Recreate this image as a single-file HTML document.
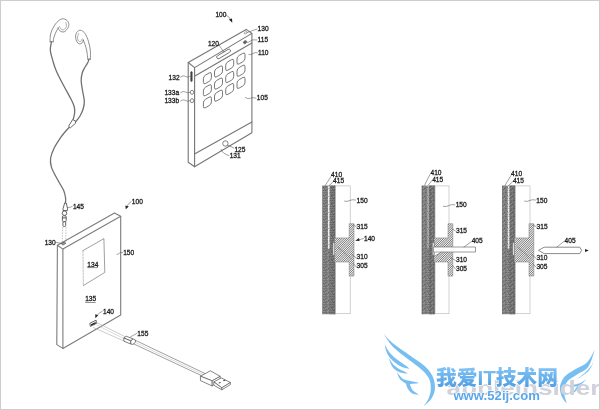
<!DOCTYPE html>
<html lang="zh">
<head>
<meta charset="utf-8">
<title>Patent figures</title>
<style>
html,body{margin:0;padding:0;background:#fff;}
body{width:600px;height:410px;overflow:hidden;position:relative;}
#frame{position:absolute;left:0;top:0;width:598px;height:408px;border:1px solid #cdcdcd;background:#fff;}
svg{position:absolute;left:0;top:0;display:block;}
</style>
</head>
<body>
<div id="frame"></div>
<svg width="600" height="410" viewBox="0 0 600 410">
<defs>
<pattern id="noise" width="8" height="8" patternUnits="userSpaceOnUse"><rect x="1" y="0" width="1" height="1" fill="#000" fill-opacity="0.15"/><rect x="2" y="0" width="1" height="1" fill="#000" fill-opacity="0.14"/><rect x="4" y="0" width="1" height="1" fill="#000" fill-opacity="0.13"/><rect x="5" y="0" width="1" height="1" fill="#000" fill-opacity="0.12"/><rect x="6" y="0" width="1" height="1" fill="#000" fill-opacity="0.07"/><rect x="0" y="1" width="1" height="1" fill="#fff" fill-opacity="0.07"/><rect x="1" y="1" width="1" height="1" fill="#000" fill-opacity="0.15"/><rect x="2" y="1" width="1" height="1" fill="#fff" fill-opacity="0.13"/><rect x="4" y="1" width="1" height="1" fill="#fff" fill-opacity="0.07"/><rect x="5" y="1" width="1" height="1" fill="#fff" fill-opacity="0.09"/><rect x="6" y="1" width="1" height="1" fill="#000" fill-opacity="0.08"/><rect x="0" y="2" width="1" height="1" fill="#fff" fill-opacity="0.08"/><rect x="5" y="2" width="1" height="1" fill="#000" fill-opacity="0.07"/><rect x="6" y="2" width="1" height="1" fill="#000" fill-opacity="0.16"/><rect x="3" y="3" width="1" height="1" fill="#000" fill-opacity="0.17"/><rect x="5" y="3" width="1" height="1" fill="#000" fill-opacity="0.14"/><rect x="7" y="3" width="1" height="1" fill="#fff" fill-opacity="0.15"/><rect x="0" y="4" width="1" height="1" fill="#000" fill-opacity="0.20"/><rect x="1" y="4" width="1" height="1" fill="#000" fill-opacity="0.12"/><rect x="2" y="4" width="1" height="1" fill="#fff" fill-opacity="0.08"/><rect x="4" y="4" width="1" height="1" fill="#000" fill-opacity="0.15"/><rect x="5" y="4" width="1" height="1" fill="#fff" fill-opacity="0.13"/><rect x="6" y="4" width="1" height="1" fill="#fff" fill-opacity="0.10"/><rect x="3" y="5" width="1" height="1" fill="#fff" fill-opacity="0.17"/><rect x="6" y="5" width="1" height="1" fill="#000" fill-opacity="0.16"/><rect x="0" y="6" width="1" height="1" fill="#fff" fill-opacity="0.16"/><rect x="1" y="6" width="1" height="1" fill="#000" fill-opacity="0.11"/><rect x="3" y="6" width="1" height="1" fill="#000" fill-opacity="0.12"/><rect x="4" y="6" width="1" height="1" fill="#000" fill-opacity="0.08"/><rect x="5" y="6" width="1" height="1" fill="#000" fill-opacity="0.17"/><rect x="6" y="6" width="1" height="1" fill="#000" fill-opacity="0.09"/><rect x="0" y="7" width="1" height="1" fill="#fff" fill-opacity="0.07"/><rect x="3" y="7" width="1" height="1" fill="#fff" fill-opacity="0.16"/><rect x="4" y="7" width="1" height="1" fill="#fff" fill-opacity="0.09"/><rect x="7" y="7" width="1" height="1" fill="#fff" fill-opacity="0.17"/></pattern>
<filter id="soft" x="0" y="0" width="600" height="410" filterUnits="userSpaceOnUse"><feGaussianBlur stdDeviation="0.38"/></filter>
<linearGradient id="bluegrad" x1="0" y1="0" x2="0" y2="1">
<stop offset="0" stop-color="#86c6f4"/>
<stop offset="1" stop-color="#4a9be3"/>
</linearGradient>
</defs>
<g id="drawing" filter="url(#soft)">
<g fill="none" stroke="#6a6a6a" stroke-width="0.75" stroke-linecap="round">
<path d="M50.1 41.8C50.1 40.8 50.0 38.0 50.3 36.0C50.6 34.0 51.0 32.1 52.1 29.8C53.2 27.5 55.1 24.2 56.8 22.4C58.5 20.6 60.5 19.1 62.2 18.8C63.9 18.5 65.8 19.5 66.9 20.4C68.0 21.3 68.8 23.1 68.9 24.4C69.0 25.7 68.4 27.2 67.6 28.4C66.8 29.6 65.4 31.4 64.2 31.8C63.0 32.2 61.2 31.8 60.2 31.1C59.2 30.4 58.5 28.4 58.2 27.8"/>
<path d="M58.2 27.8C57.8 28.5 56.7 30.5 56.0 32.0C55.3 33.5 54.5 35.4 54.0 37.0C53.5 38.6 53.3 41.0 53.2 41.8"/>
<path d="M59.5 26.5C59.8 27.0 60.7 29.0 61.5 29.5C62.3 30.0 63.7 29.9 64.5 29.3C65.3 28.7 66.3 27.1 66.5 26.0C66.7 24.9 65.9 23.1 65.8 22.5" stroke="#999"/>
<path d="M50.1 41.8L53.2 41.8"/>
<path d="M90.3 59.2C90.3 57.8 90.7 53.9 90.4 51.0C90.1 48.1 89.4 44.5 88.6 41.8C87.8 39.0 86.6 36.3 85.6 34.5C84.6 32.7 83.6 31.7 82.5 31.0C81.4 30.3 80.2 30.1 79.2 30.4C78.2 30.7 77.0 31.9 76.4 33.0C75.8 34.1 75.5 35.7 75.6 37.1C75.7 38.5 76.2 40.4 76.8 41.5C77.4 42.6 78.3 43.6 79.2 43.9C80.1 44.1 81.3 43.6 82.0 43.0C82.7 42.4 83.0 40.5 83.2 40.0"/>
<path d="M83.2 40.0C83.5 40.8 84.4 42.7 85.0 44.5C85.6 46.3 86.3 48.5 86.8 51.0C87.3 53.5 87.6 57.8 87.8 59.2"/>
<path d="M82.3 38.8C82.0 39.2 81.2 41.2 80.5 41.5C79.8 41.8 78.7 41.2 78.2 40.5C77.7 39.8 77.4 38.2 77.5 37.0C77.6 35.8 78.6 34.1 78.8 33.5" stroke="#999"/>
<path d="M87.8 59.2L90.3 59.2"/>
</g>
<g fill="none" stroke="#707070" stroke-width="1.3" stroke-linecap="round">
<path d="M51.5 41.8C51.3 43.2 50.1 46.9 50.3 50.0C50.5 53.1 51.8 57.1 52.8 60.6C53.8 64.0 54.4 66.5 56.2 70.7C58.0 74.9 61.0 80.6 63.6 85.5C66.2 90.4 69.8 96.7 71.6 100.3C73.4 103.9 73.8 104.9 74.3 107.0C74.8 109.1 74.8 110.8 74.6 113.0C74.4 115.2 73.3 119.2 73.0 120.4"/>
<path d="M89.0 59.2C88.8 59.8 88.3 61.6 87.6 63.0C86.9 64.4 85.7 65.8 84.8 67.5C83.9 69.2 82.8 70.8 82.2 73.0C81.6 75.2 81.1 77.8 81.2 81.0C81.3 84.2 82.3 88.7 82.8 92.0C83.3 95.3 84.2 98.3 84.3 101.0C84.4 103.7 84.1 105.5 83.4 108.0C82.7 110.5 81.4 113.6 80.0 116.0C78.6 118.4 76.0 121.2 75.2 122.2"/>
<path d="M69.5 127.0C68.8 127.8 66.4 130.3 65.0 132.0C63.6 133.7 62.7 134.5 60.9 137.2C59.1 139.9 55.9 144.5 54.2 148.0C52.5 151.5 51.1 154.8 50.6 158.0C50.1 161.2 50.4 163.8 51.5 167.4C52.6 171.0 55.5 175.7 57.5 179.5C59.5 183.3 62.2 187.2 63.6 190.3C65.0 193.4 65.3 196.2 65.6 198.3C65.9 200.4 65.4 202.2 65.4 203.0"/>
</g>
<path d="M72.6 119.6Q76.6 120.4 75.6 123.2L70.4 127.8L68.6 126.2Z" fill="#fff" stroke="#5a5a5a" stroke-width="0.9" stroke-linejoin="round"/>
<g fill="#fff" stroke="#484848" stroke-width="0.85" stroke-linejoin="round">
<path d="M64.7 203L66.3 203L67.5 208.4L67.3 210.6L63 210.6L63.1 208.4Z"/>
<ellipse cx="64.5" cy="213.2" rx="2.3" ry="2.2"/>
<rect x="62.4" y="215.8" width="3.8" height="5.8" rx="1"/>
<rect x="62.9" y="221.8" width="2.8" height="4.6" rx="0.9"/>
</g>
<path d="M62.4 217.9H66.2" stroke="#444" stroke-width="0.9"/>
<g stroke="#999" stroke-width="0.6" stroke-dasharray="1.5 1.2" fill="none"><path d="M62.6 227L62.2 243"/><path d="M66 227L65.8 242"/></g>
<g fill="none" stroke="#767676" stroke-width="1.1" stroke-linejoin="round" stroke-linecap="round">
<path d="M188.2 62.5L246.2 29.4L251.9 33.4L194.6 67.6Z"/>
<path d="M188.2 62.5L188.2 162.3L194.6 166.7L194.6 67.6"/>
<path d="M251.9 33.4L251.9 132.8L194.5 166.7"/>
<path d="M194.5 76.2L251.9 43"/>
<path d="M194.5 153.9L251.9 122"/>
</g>
<rect x="-7.8" y="-1.6" width="15.6" height="3.2" rx="1.6" transform="translate(223.6 54.0) rotate(-31)" fill="#fff" stroke="#585858" stroke-width="0.75"/>
<ellipse cx="245" cy="42.2" rx="1.8" ry="1.4" transform="rotate(-30 245 42.2)" fill="#666" stroke="#555" stroke-width="0.5"/>
<ellipse cx="245.7" cy="32.8" rx="1.6" ry="1" transform="rotate(-30 245.7 32.8)" fill="none" stroke="#777" stroke-width="0.6"/>
<g fill="#fff" stroke="#606060" stroke-width="0.75">
<rect x="-4" y="-4.2" width="8" height="8.4" rx="2.3" transform="matrix(1 -0.58 0 1 207.4 78.2)"/>
<rect x="-4" y="-4.2" width="8" height="8.4" rx="2.3" transform="matrix(1 -0.58 0 1 218.5 71.5)"/>
<rect x="-4" y="-4.2" width="8" height="8.4" rx="2.3" transform="matrix(1 -0.58 0 1 229.7 64.9)"/>
<rect x="-4" y="-4.2" width="8" height="8.4" rx="2.3" transform="matrix(1 -0.58 0 1 241.0 58.6)"/>
<rect x="-4" y="-4.2" width="8" height="8.4" rx="2.3" transform="matrix(1 -0.58 0 1 207.4 90.3)"/>
<rect x="-4" y="-4.2" width="8" height="8.4" rx="2.3" transform="matrix(1 -0.58 0 1 218.5 83.6)"/>
<rect x="-4" y="-4.2" width="8" height="8.4" rx="2.3" transform="matrix(1 -0.58 0 1 229.7 77.0)"/>
<rect x="-4" y="-4.2" width="8" height="8.4" rx="2.3" transform="matrix(1 -0.58 0 1 241.0 70.7)"/>
<rect x="-4" y="-4.2" width="8" height="8.4" rx="2.3" transform="matrix(1 -0.58 0 1 207.4 102.4)"/>
<rect x="-4" y="-4.2" width="8" height="8.4" rx="2.3" transform="matrix(1 -0.58 0 1 218.5 95.7)"/>
<rect x="-4" y="-4.2" width="8" height="8.4" rx="2.3" transform="matrix(1 -0.58 0 1 229.7 89.1)"/>
<rect x="-4" y="-4.2" width="8" height="8.4" rx="2.3" transform="matrix(1 -0.58 0 1 241.0 82.8)"/>
</g>
<rect x="190.6" y="71.5" width="1.7" height="10" rx="0.85" fill="#444" stroke="#444" stroke-width="0.4"/>
<ellipse cx="192" cy="92.3" rx="1.6" ry="2.1" fill="#fff" stroke="#585858" stroke-width="0.7"/>
<ellipse cx="192" cy="100.7" rx="1.6" ry="2.1" fill="#fff" stroke="#585858" stroke-width="0.7"/>
<ellipse cx="225.4" cy="143.5" rx="2.7" ry="2.7" fill="#fff" stroke="#585858" stroke-width="0.75"/>
<g fill="none" stroke="#7c7c7c" stroke-width="1.1" stroke-linejoin="round" stroke-linecap="round">
<path d="M57.4 245.3L114.5 212.9L120.7 216.3L62.9 249.1Z"/>
<path d="M57.4 245.3L56.8 344.6L62.9 348.4L62.9 249.1"/>
<path d="M120.7 216.3L120.7 315L62.9 348.4"/>
<path d="M83 250.6L103.9 238.6L104.8 272.4L83.3 285.6" stroke="#777" stroke-width="0.7"/>
<path d="M83 250.6L83.3 285.6" stroke="#aaa" stroke-width="0.7" stroke-dasharray="2 1.2"/>
</g>
<path d="M61.3 243.8L64.3 242.1L65.9 243.3L62.9 245.1Z" fill="#999" stroke="#555" stroke-width="0.7"/>
<path d="M89.9 323.2L96.1 320.2L96.5 323.4L90.3 326.4Z" fill="#fff" stroke="#4a4a4a" stroke-width="0.85"/>
<path d="M90.9 324.3L95.6 322L95.8 323.4L91.1 325.8Z" fill="#2a2a2a"/>
<g stroke="#aaa" stroke-width="0.6" fill="none">
<path d="M96.4 322.4L125.3 336.8"/>
<path d="M93 327.4L124.4 341.2"/>
<path d="M96.4 324.8L124.3 338.8" stroke="#c4c4c4"/>
</g>
<g fill="#fff" stroke="#555" stroke-width="0.75" stroke-linejoin="round">
<path d="M123.8 338L126.2 336.2L133 338.9L130.8 340.9Z"/>
<path d="M123.8 338L130.8 340.9L130.8 344L123.9 341.2Z"/>
<path d="M130.8 340.9L133 338.9L135.4 340L135.4 342.4L133 344.4L130.8 344Z"/>
</g>
<g stroke="#777" stroke-width="0.7" fill="none">
<path d="M135.4 340.3L205.2 373.6"/>
<path d="M133.3 343.7L201.6 375.7"/>
<path d="M134.4 342L203.4 374.7" stroke="#bbb" stroke-width="0.5"/>
</g>
<g fill="#fff" stroke="#5c5c5c" stroke-width="0.75" stroke-linejoin="round">
<path d="M200.4 376.2L210.4 370.8L220.2 376.3L212.2 380.8Z"/>
<path d="M200.4 376.2L212.2 380.8L212.2 386L200.5 380.6Z"/>
<path d="M212.2 380.8L220.2 376.3L220.2 379L212.2 386Z"/>
<path d="M213.8 381.9L221.3 377.9L230.4 382.5L221.8 387.8Z"/>
<path d="M213.8 381.9L221.8 387.8L221.8 389.8L213.8 385.2Z"/>
<path d="M221.8 387.8L230.4 382.5L230.4 384.6L221.8 389.8Z"/>
</g>
<path d="M218.2 382.9L220 381.9L221.2 382.6L219.4 383.6Z" fill="#555"/>
<path d="M222.8 380.6L224.6 379.6L225.8 380.3L224 381.3Z" fill="#555"/>
<rect x="322.4" y="185.6" width="13.0" height="128.6" fill="#7f7f7f"/>
<rect x="329.6" y="185.6" width="5.8" height="128.6" fill="#757575"/>
<path d="M322.8 185.6V314.2M331.9 185.6V314.2M335.0 185.6V314.2" stroke="#666" stroke-width="0.6" fill="none"/>
<rect x="328.0" y="185.6" width="1.6" height="63.2" fill="#eee"/>
<rect x="322.4" y="185.6" width="13.0" height="128.6" fill="url(#noise)"/>
<rect x="335.7" y="185.9" width="14.5" height="127.8" fill="#fff" stroke="#b4b4b4" stroke-width="0.6"/>
<clipPath id="hc1"><rect x="349.2" y="223.7" width="4.8" height="52.4"/><rect x="334.6" y="237.9" width="19.4" height="24.1"/></clipPath>
<rect x="349.2" y="223.7" width="4.8" height="52.4" fill="#f2f2f2"/>
<rect x="334.6" y="237.9" width="19.4" height="24.1" fill="#f2f2f2"/>
<path d="M274.60 276.5L334.60 216.50M276.85 276.5L336.85 216.50M279.10 276.5L339.10 216.50M281.35 276.5L341.35 216.50M283.60 276.5L343.60 216.50M285.85 276.5L345.85 216.50M288.10 276.5L348.10 216.50M290.35 276.5L350.35 216.50M292.60 276.5L352.60 216.50M294.85 276.5L354.85 216.50M297.10 276.5L357.10 216.50M299.35 276.5L359.35 216.50M301.60 276.5L361.60 216.50M303.85 276.5L363.85 216.50M306.10 276.5L366.10 216.50M308.35 276.5L368.35 216.50M310.60 276.5L370.60 216.50M312.85 276.5L372.85 216.50M315.10 276.5L375.10 216.50M317.35 276.5L377.35 216.50M319.60 276.5L379.60 216.50M321.85 276.5L381.85 216.50M324.10 276.5L384.10 216.50M326.35 276.5L386.35 216.50M328.60 276.5L388.60 216.50M330.85 276.5L390.85 216.50M333.10 276.5L393.10 216.50M335.35 276.5L395.35 216.50M337.60 276.5L397.60 216.50M339.85 276.5L399.85 216.50M342.10 276.5L402.10 216.50M344.35 276.5L404.35 216.50M346.60 276.5L406.60 216.50M348.85 276.5L408.85 216.50M351.10 276.5L411.10 216.50M353.35 276.5L413.35 216.50" stroke="#6e6e6e" stroke-width="0.95" fill="none" clip-path="url(#hc1)"/>
<path d="M349.2 223.7H354.0V276.1H349.2V262H334.6V237.9H349.2Z" fill="none" stroke="#7a7a7a" stroke-width="0.5"/>
<rect x="332.8" y="242.5" width="2" height="12.6" fill="#ddd" stroke="#666" stroke-width="0.5"/>
<rect x="421.8" y="185.6" width="13.0" height="128.6" fill="#7f7f7f"/>
<rect x="429.0" y="185.6" width="5.8" height="128.6" fill="#757575"/>
<path d="M422.2 185.6V314.2M431.3 185.6V314.2M434.4 185.6V314.2" stroke="#666" stroke-width="0.6" fill="none"/>
<path d="M428.1 185.6V248.4" stroke="#d8d8d8" stroke-width="1.1" stroke-dasharray="1.3 0.7" fill="none"/>
<rect x="421.8" y="185.6" width="13.0" height="128.6" fill="url(#noise)"/>
<rect x="435.1" y="185.9" width="13.9" height="127.8" fill="#fff" stroke="#b4b4b4" stroke-width="0.6"/>
<clipPath id="hc2"><rect x="448.0" y="223.7" width="4.8" height="52.4"/><rect x="434.0" y="237.9" width="18.8" height="24.1"/></clipPath>
<rect x="448.0" y="223.7" width="4.8" height="52.4" fill="#f2f2f2"/>
<rect x="434.0" y="237.9" width="18.8" height="24.1" fill="#f2f2f2"/>
<path d="M374.00 276.5L434.00 216.50M376.25 276.5L436.25 216.50M378.50 276.5L438.50 216.50M380.75 276.5L440.75 216.50M383.00 276.5L443.00 216.50M385.25 276.5L445.25 216.50M387.50 276.5L447.50 216.50M389.75 276.5L449.75 216.50M392.00 276.5L452.00 216.50M394.25 276.5L454.25 216.50M396.50 276.5L456.50 216.50M398.75 276.5L458.75 216.50M401.00 276.5L461.00 216.50M403.25 276.5L463.25 216.50M405.50 276.5L465.50 216.50M407.75 276.5L467.75 216.50M410.00 276.5L470.00 216.50M412.25 276.5L472.25 216.50M414.50 276.5L474.50 216.50M416.75 276.5L476.75 216.50M419.00 276.5L479.00 216.50M421.25 276.5L481.25 216.50M423.50 276.5L483.50 216.50M425.75 276.5L485.75 216.50M428.00 276.5L488.00 216.50M430.25 276.5L490.25 216.50M432.50 276.5L492.50 216.50M434.75 276.5L494.75 216.50M437.00 276.5L497.00 216.50M439.25 276.5L499.25 216.50M441.50 276.5L501.50 216.50M443.75 276.5L503.75 216.50M446.00 276.5L506.00 216.50M448.25 276.5L508.25 216.50M450.50 276.5L510.50 216.50M452.75 276.5L512.75 216.50" stroke="#6e6e6e" stroke-width="0.95" fill="none" clip-path="url(#hc2)"/>
<path d="M448.0 223.7H452.8V276.1H448.0V262H434.0V237.9H448.0Z" fill="none" stroke="#7a7a7a" stroke-width="0.5"/>
<rect x="432.2" y="242.5" width="2" height="12.6" fill="#ddd" stroke="#666" stroke-width="0.5"/>
<rect x="502.2" y="185.6" width="13.0" height="128.6" fill="#7f7f7f"/>
<rect x="509.4" y="185.6" width="5.8" height="128.6" fill="#757575"/>
<path d="M502.6 185.6V314.2M511.7 185.6V314.2M514.8 185.6V314.2" stroke="#666" stroke-width="0.6" fill="none"/>
<rect x="507.8" y="185.6" width="1.6" height="63.2" fill="#eee"/>
<rect x="502.2" y="185.6" width="13.0" height="128.6" fill="url(#noise)"/>
<rect x="515.5" y="185.9" width="14.5" height="127.8" fill="#fff" stroke="#b4b4b4" stroke-width="0.6"/>
<clipPath id="hc3"><rect x="529.0" y="223.7" width="4.8" height="52.4"/><rect x="514.4" y="237.9" width="19.4" height="24.1"/></clipPath>
<rect x="529.0" y="223.7" width="4.8" height="52.4" fill="#f2f2f2"/>
<rect x="514.4" y="237.9" width="19.4" height="24.1" fill="#f2f2f2"/>
<path d="M454.40 276.5L514.40 216.50M456.65 276.5L516.65 216.50M458.90 276.5L518.90 216.50M461.15 276.5L521.15 216.50M463.40 276.5L523.40 216.50M465.65 276.5L525.65 216.50M467.90 276.5L527.90 216.50M470.15 276.5L530.15 216.50M472.40 276.5L532.40 216.50M474.65 276.5L534.65 216.50M476.90 276.5L536.90 216.50M479.15 276.5L539.15 216.50M481.40 276.5L541.40 216.50M483.65 276.5L543.65 216.50M485.90 276.5L545.90 216.50M488.15 276.5L548.15 216.50M490.40 276.5L550.40 216.50M492.65 276.5L552.65 216.50M494.90 276.5L554.90 216.50M497.15 276.5L557.15 216.50M499.40 276.5L559.40 216.50M501.65 276.5L561.65 216.50M503.90 276.5L563.90 216.50M506.15 276.5L566.15 216.50M508.40 276.5L568.40 216.50M510.65 276.5L570.65 216.50M512.90 276.5L572.90 216.50M515.15 276.5L575.15 216.50M517.40 276.5L577.40 216.50M519.65 276.5L579.65 216.50M521.90 276.5L581.90 216.50M524.15 276.5L584.15 216.50M526.40 276.5L586.40 216.50M528.65 276.5L588.65 216.50M530.90 276.5L590.90 216.50M533.15 276.5L593.15 216.50" stroke="#6e6e6e" stroke-width="0.95" fill="none" clip-path="url(#hc3)"/>
<path d="M529.0 223.7H533.8V276.1H529.0V262H514.4V237.9H529.0Z" fill="none" stroke="#7a7a7a" stroke-width="0.5"/>
<rect x="512.6" y="242.5" width="2" height="12.6" fill="#ddd" stroke="#666" stroke-width="0.5"/>
<path d="M337.5 247L351.5 259" stroke="#666" stroke-width="0.5" fill="none"/>
<path d="M517.3 247L531.3 259" stroke="#666" stroke-width="0.5" fill="none"/>
<path d="M433.4 247L475.5 247L475.5 252L441.5 252L434.2 256.5L434.2 252L433.4 252Z" fill="#fff" stroke="#707070" stroke-width="0.7"/>
<path d="M434.2 252L441.5 252" stroke="#707070" stroke-width="0.6"/>
<path d="M538.5 250.3L544.2 247.2L579.7 247.2L581.7 250.3L579.7 253.6L544.2 253.6Z" fill="#fff" stroke="#666" stroke-width="0.75"/>
<path d="M585 248.9L588.8 250.4L585 251.9Z" fill="#222"/>
<g font-family="'Liberation Sans', Arial, sans-serif" font-size="6.6px" fill="#1a1a1a" stroke="#1a1a1a" stroke-width="0.28">
<text x="215.4" y="17.2">100</text>
<text x="257.6" y="31.1">130</text>
<text x="257.6" y="42.2">115</text>
<text x="258.0" y="54.9">110</text>
<text x="256.8" y="100.3">105</text>
<text x="207.9" y="46.1">120</text>
<text x="168.6" y="79.6">132</text>
<text x="164.4" y="94.5">133a</text>
<text x="164.4" y="102.8">133b</text>
<text x="234.4" y="151.5">125</text>
<text x="229.7" y="158.2">131</text>
<text x="131.8" y="204.0">100</text>
<text x="72.9" y="208.5">145</text>
<text x="44.7" y="244.8">130</text>
<text x="123.2" y="254.8">150</text>
<text x="103.0" y="313.5">140</text>
<text x="137.3" y="335.6">155</text>
<text x="331.1" y="176.9">410</text>
<text x="333.1" y="183.0">415</text>
<text x="356.6" y="202.7">150</text>
<text x="356.6" y="228.5">315</text>
<text x="364.0" y="240.6">140</text>
<text x="356.6" y="259.4">310</text>
<text x="356.6" y="268.2">305</text>
<text x="430.5" y="175.2">410</text>
<text x="432.2" y="181.5">415</text>
<text x="455.7" y="207.1">150</text>
<text x="456.0" y="233.2">315</text>
<text x="471.7" y="243.3">405</text>
<text x="456.0" y="262.1">310</text>
<text x="456.0" y="271.0">305</text>
<text x="511.1" y="176.1">410</text>
<text x="512.9" y="182.5">415</text>
<text x="536.3" y="202.7">150</text>
<text x="536.6" y="228.5">315</text>
<text x="564.6" y="243.3">405</text>
<text x="536.4" y="259.7">310</text>
<text x="536.4" y="268.8">305</text>
<text x="87.3" y="266.5">134</text>
<text x="85.2" y="301.4">135</text>
</g>
<path d="M87.3 267.6L97.8 267.6M85.2 302.5L95.7 302.5" stroke="#2a2a2a" stroke-width="0.5"/>
<g fill="none" stroke="#555" stroke-width="0.55" stroke-linecap="round">
<path d="M226.4 15.4Q229.4 16.4 230.8 19.6"/>
<path d="M257 29L247 32.6"/>
<path d="M257 39.9Q252 39.2 250.5 41Q248.5 42.8 246.6 42.3"/>
<path d="M257.3 52.7Q254.5 52.2 253 53.6Q250.8 55.2 248.8 54.5"/>
<path d="M256 98.2Q252.5 97 250.6 98.2Q248 99.6 245.4 97.6"/>
<path d="M218.6 44.4L223.8 52.2"/>
<path d="M180.6 77Q183.5 74.8 185.4 76.4Q187.5 78 189.8 76.4"/>
<path d="M180.6 92.6Q183.5 90.4 185.4 92Q187.5 93.6 190.2 92.4"/>
<path d="M180.6 101Q183.5 98.8 185.4 100.4Q187.5 102 190.2 100.8"/>
<path d="M233.8 148L227.8 145.2"/>
<path d="M221 149.4Q222 153.5 229 155.6"/>
<path d="M131 201.8Q128.6 203 127.4 205.6"/>
<path d="M67.6 207.8Q70 207.6 72.3 206.4"/>
<path d="M55.5 242.3L61.6 243.4"/>
<path d="M122.6 252.6Q120.8 252 119.4 253.2Q118 254.6 116.8 254.4"/>
<path d="M102.3 311.3Q99.5 312.6 97.4 314.8"/>
<path d="M136.8 333.4L130.6 336.8"/>
<path d="M330.9 176.6L325.2 185.6"/>
<path d="M333 182L328.6 186"/>
<path d="M355.4 200Q352 199.2 350 200.4Q347.5 202 344.6 201.2"/>
<path d="M356 226.6L353.2 225"/>
<path d="M363.4 238.6L358.4 239.9"/>
<path d="M356 257.8L352 254.6"/>
<path d="M356 266.6L353.4 263.6"/>
<path d="M429.9 174.6L424.6 185.2"/>
<path d="M431.9 180.6L428.2 185.2"/>
<path d="M454.8 204.8Q451.5 204 449.4 205.4Q446.6 207 443.4 206.4"/>
<path d="M455.4 231L452.6 229"/>
<path d="M471.2 241.8L464 247"/>
<path d="M455.4 260.4L451 258"/>
<path d="M455.4 269L452.6 265.4"/>
<path d="M510.9 175.6L505 185.4"/>
<path d="M512.8 181.6L508.4 185.6"/>
<path d="M535.4 200Q532 199.2 530 200.4Q527.5 202 524.6 201.2"/>
<path d="M536 226.6L533.2 225"/>
<path d="M564 241.4L556.7 247.2"/>
<path d="M535.8 258L532 254.8"/>
<path d="M535.8 267L533 263.8"/>
</g>
<g fill="#222">
<path d="M232.3 22.8L228.9 19.6L232 18.6Z"/>
<path d="M125.8 209.3L125.3 205.4L128.8 206.4Z"/>
<path d="M95.4 318.2L95.2 314.2L98.2 315.3Z"/>
<path d="M355.2 240.8L359 238L359.6 241Z"/>
</g>
</g>
<g id="watermark" filter="url(#soft)">
<g fill="#78bff1">
<path d="M383.6 333.6C385.0 335.1 387.6 338.9 392.0 342.5C396.4 346.1 404.7 351.7 410.0 355.5C415.3 359.3 420.2 362.1 424.0 365.5C427.8 368.9 430.7 372.2 432.5 376.0C434.3 379.8 435.1 384.3 435.0 388.0C434.9 391.7 433.6 395.0 431.8 398.0C430.0 401.0 424.5 405.7 424.0 405.8C423.5 405.9 427.5 401.3 428.6 398.5C429.7 395.7 430.7 392.2 430.8 389.0C430.9 385.8 430.7 382.2 429.2 379.0C427.7 375.8 425.4 373.2 422.0 370.0C418.6 366.8 413.4 363.5 408.5 359.6C403.6 355.7 396.8 350.9 392.6 346.6C388.5 342.3 385.1 335.8 383.6 333.6Z"/>
<path d="M384.8 344.6C385.4 345.7 386.9 348.9 388.5 351.0C390.1 353.1 391.1 354.6 394.5 357.5C397.9 360.4 408.1 366.8 409.0 368.2C409.9 369.6 403.1 367.6 400.0 366.0C396.9 364.4 392.8 361.0 390.5 358.5C388.2 356.0 387.1 353.3 386.2 351.0C385.2 348.7 385.0 345.7 384.8 344.6Z"/>
<path d="M388.8 357.8C389.4 358.8 391.1 361.8 392.5 363.5C393.9 365.2 395.0 366.4 397.5 368.0C400.0 369.6 407.3 372.8 407.5 373.4C407.7 374.0 401.1 373.0 398.5 371.8C395.9 370.6 393.6 368.5 392.0 366.2C390.4 363.9 389.3 359.2 388.8 357.8Z"/>
<path d="M396.8 371.8C397.3 372.5 398.6 374.7 400.0 376.0C401.4 377.3 401.9 378.7 405.0 379.8C408.1 380.9 417.8 382.1 418.6 382.8C419.4 383.5 412.2 383.9 410.0 384.0C407.8 384.1 407.2 384.3 405.5 383.4C403.8 382.5 400.9 380.5 399.5 378.6C398.1 376.7 397.2 372.9 396.8 371.8Z"/>
<path d="M405.8 382.6C406.3 382.6 407.9 381.6 409.0 382.8C410.1 384.0 410.9 388.0 412.5 390.0C414.1 392.0 418.8 394.1 418.6 394.6C418.4 395.1 413.4 394.2 411.5 393.0C409.6 391.8 408.1 389.2 407.2 387.5C406.2 385.8 406.0 383.4 405.8 382.6Z"/>
<path d="M594.8 349.6C593.5 351.8 590.5 359.1 587.0 362.5C583.5 365.9 577.8 367.6 574.0 370.0C570.2 372.4 566.8 374.1 564.5 376.8C562.2 379.6 560.5 383.2 560.0 386.5C559.5 389.8 560.7 393.8 561.8 396.5C562.9 399.2 566.1 402.9 566.6 402.8C567.1 402.7 565.0 398.4 564.6 396.0C564.2 393.6 563.7 391.0 564.2 388.5C564.7 386.0 565.7 383.3 567.8 381.0C569.9 378.7 573.5 376.9 577.0 374.5C580.5 372.1 585.5 370.6 588.5 366.5C591.5 362.4 593.8 352.4 594.8 349.6Z"/>
<path d="M594.8 358.6C593.8 360.6 591.9 367.1 589.0 370.5C586.1 373.9 578.1 378.6 577.6 378.8C577.1 379.1 583.5 374.2 585.8 372.0C588.1 369.8 590.0 367.7 591.5 365.5C593.0 363.3 594.2 359.8 594.8 358.6Z"/>
<path d="M586.4 379.2C585.2 379.9 581.7 382.6 579.0 383.6C576.3 384.6 571.0 384.9 570.2 385.4C569.4 385.9 572.3 386.7 574.0 386.6C575.7 386.5 578.4 386.0 580.5 384.8C582.6 383.6 585.4 380.1 586.4 379.2Z"/>
<path d="M577.6 385.2C577.0 386.1 575.4 389.4 574.2 390.8C573.0 392.2 570.0 393.7 570.2 393.8C570.4 393.9 574.0 392.8 575.4 391.6C576.8 390.4 578.0 387.5 578.4 386.4C578.8 385.3 577.7 385.4 577.6 385.2Z"/>
</g>
<text x="446.5" y="395" font-family="'Liberation Sans', Arial, sans-serif" font-weight="bold" font-size="20.5px" fill="#cfd1db" textLength="154" lengthAdjust="spacingAndGlyphs">appleinsider</text>
<text x="436" y="385" font-family="'Liberation Sans', 'Noto Sans CJK SC', sans-serif" font-weight="900" font-size="20.5px" fill="url(#bluegrad)" stroke="#fff" stroke-width="1.4" paint-order="stroke" stroke-linejoin="round" textLength="122" lengthAdjust="spacingAndGlyphs">我爱IT技术网</text>
<text x="453.4" y="400.2" font-family="'Liberation Sans', Arial, sans-serif" font-weight="bold" font-size="13px" fill="#5aa8ea" stroke="#fff" stroke-width="1.2" paint-order="stroke" stroke-linejoin="round" textLength="86.5" lengthAdjust="spacingAndGlyphs">www.52ij.com</text>
</g>
</svg>
</body>
</html>
